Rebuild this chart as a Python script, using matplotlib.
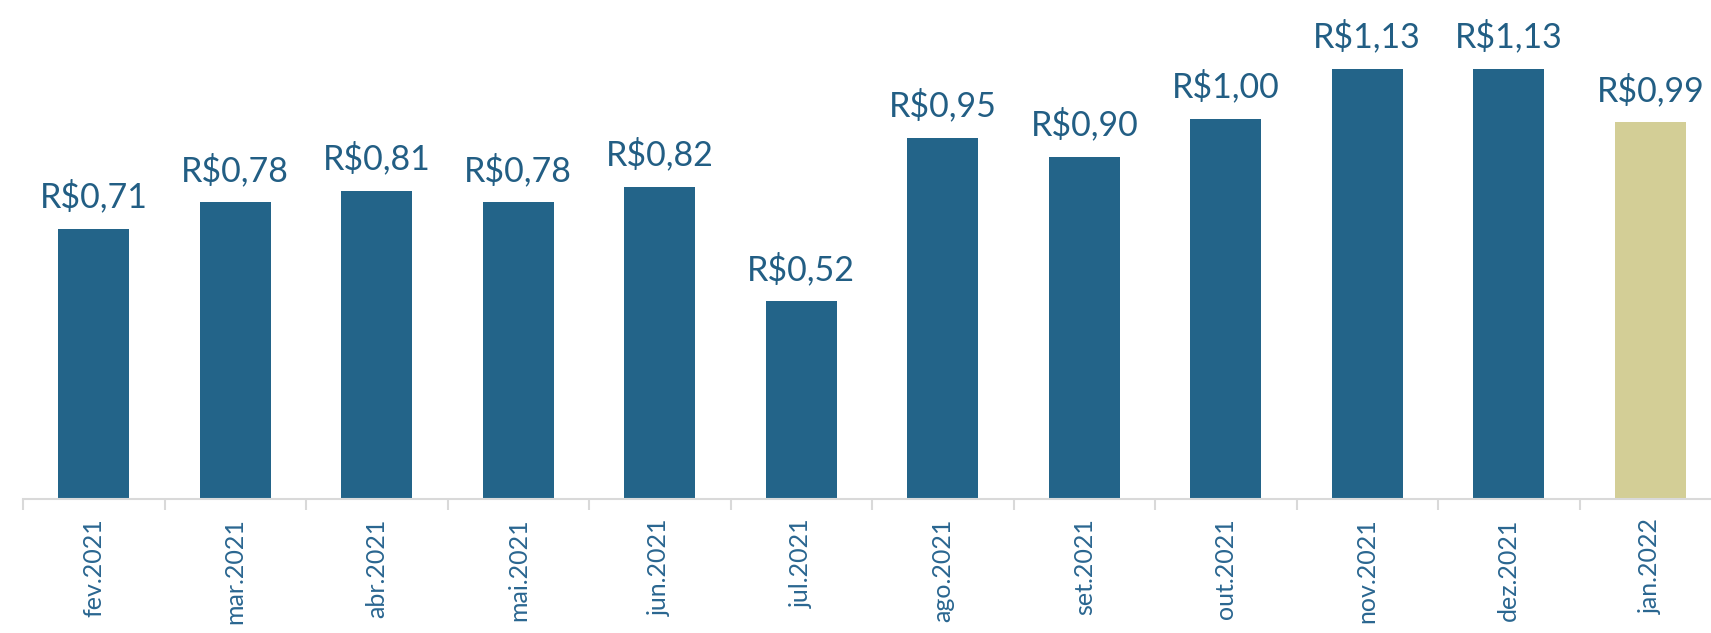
import matplotlib.pyplot as plt
import numpy as np

# Dados
meses = ["fev.2021", "mar.2021", "abr.2021", "mai.2021", "jun.2021", "jul.2021",
         "ago.2021", "set.2021", "out.2021", "nov.2021", "dez.2021", "jan.2022"]
valores = [0.71, 0.78, 0.81, 0.78, 0.82, 0.52, 0.95, 0.90, 1.00, 1.13, 1.13, 0.99]
rotulos = ["R$0,71", "R$0,78", "R$0,81", "R$0,78", "R$0,82", "R$0,52",
           "R$0,95", "R$0,90", "R$1,00", "R$1,13", "R$1,13", "R$0,99"]

azul = "#236489"
caqui = "#d3ce96"
cores = [azul] * (len(meses) - 1) + [caqui]

plt.rcParams["font.family"] = ["Lato", "DejaVu Sans"]

fig = plt.figure(figsize=(17.11, 6.33), dpi=100)
ax = fig.add_axes([23 / 1711, 134 / 633, 1698 / 1711, 499 / 633])

x = np.arange(len(meses))
ax.bar(x, valores, width=0.5, color=cores)

for xi, v, r in zip(x, valores, rotulos):
    ax.annotate(r, (xi, v), xytext=(0, 11), textcoords="offset points",
                ha="center", va="bottom", fontsize=24.5, color="#225e84")

ax.set_xlim(-0.5, len(meses) - 0.5)
ax.set_ylim(0, 499 / 380.5)

for s in ["top", "right", "left"]:
    ax.spines[s].set_visible(False)
ax.spines["bottom"].set_color("#d9d9d9")
ax.spines["bottom"].set_linewidth(1.5)

ax.set_yticks([])
ax.set_xticks(x)
ax.set_xticklabels(meses, rotation=90, fontsize=18, color="#2a6690")
ax.tick_params(axis="x", which="major", length=0, pad=14)
ax.set_xticks(np.arange(-0.5, len(meses)), minor=True)
ax.tick_params(axis="x", which="minor", length=8, width=1.5, color="#d9d9d9")

fig.savefig("out.png", dpi=100)
